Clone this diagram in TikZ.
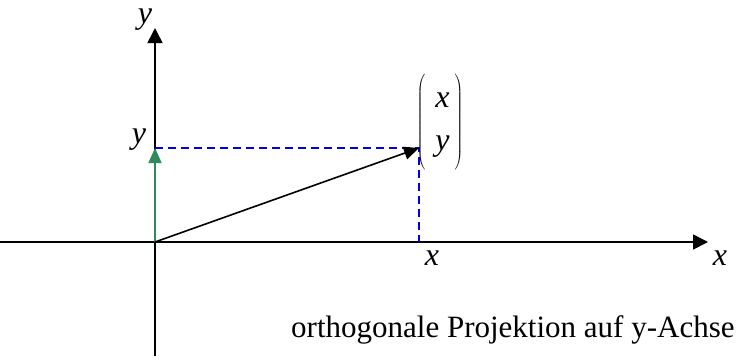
\documentclass[tikz,border=0pt]{standalone}
\usepackage{fontspec}
\setmainfont{Liberation Serif}
\usetikzlibrary{arrows.meta}
\definecolor{vgreen}{RGB}{46,139,96}
\definecolor{dblue}{RGB}{0,0,230}
\begin{document}
\begin{tikzpicture}[x=1pt,y=-1pt,
  axis/.style={line width=1.6pt,-{Triangle[length=15pt,width=15pt]}},
  vec/.style={line width=1.6pt,-{Triangle[length=15pt,width=13pt]}},
  proj/.style={dblue,line width=1.5pt,dash pattern=on 8pt off 5pt},
  lab/.style={font=\fontsize{32}{36}\selectfont\itshape,inner sep=0pt},
  txt/.style={font=\fontsize{31}{36}\selectfont,inner sep=0pt}]
\useasboundingbox (0,0) rectangle (749,362);
\coordinate (O) at (155,242);
\coordinate (xl) at (0,242);
\coordinate (xr) at (708,242);
\coordinate (yb) at (155,356);
\coordinate (yt) at (155,28);
\coordinate (P) at (419,148);
\coordinate (Py) at (155,148);
\coordinate (Px) at (419,242);
\draw[line width=1.6pt] (yb) -- (O);
\draw[axis] (xl) -- (xr);
\draw[axis] (O) -- (yt);
\draw[proj] (Py) -- (P) -- (Px);
\draw[vec,vgreen] (O) -- (Py);
\draw[vec] (O) -- (P);
\node[lab] (ly) at (145,20) {y};
\node[lab] (lyp) at (139,140) {y};
\node[lab] (lxp) at (432,258) {x};
\node[lab] (lx) at (720,258) {x};
\node[inner sep=0pt] (M) at (440,122) {\fontsize{32}{36}\selectfont$\left(\vrule height 54pt depth 38pt width 0pt\begin{tabular}{@{\hspace{10pt}}c@{\hspace{5pt}}}\itshape x\\[7pt]\itshape y\end{tabular}\right)$};
\node[txt,anchor=base west] (t) at (291,337) {orthogonale Projektion auf y-Achse};
\end{tikzpicture}
\end{document}
